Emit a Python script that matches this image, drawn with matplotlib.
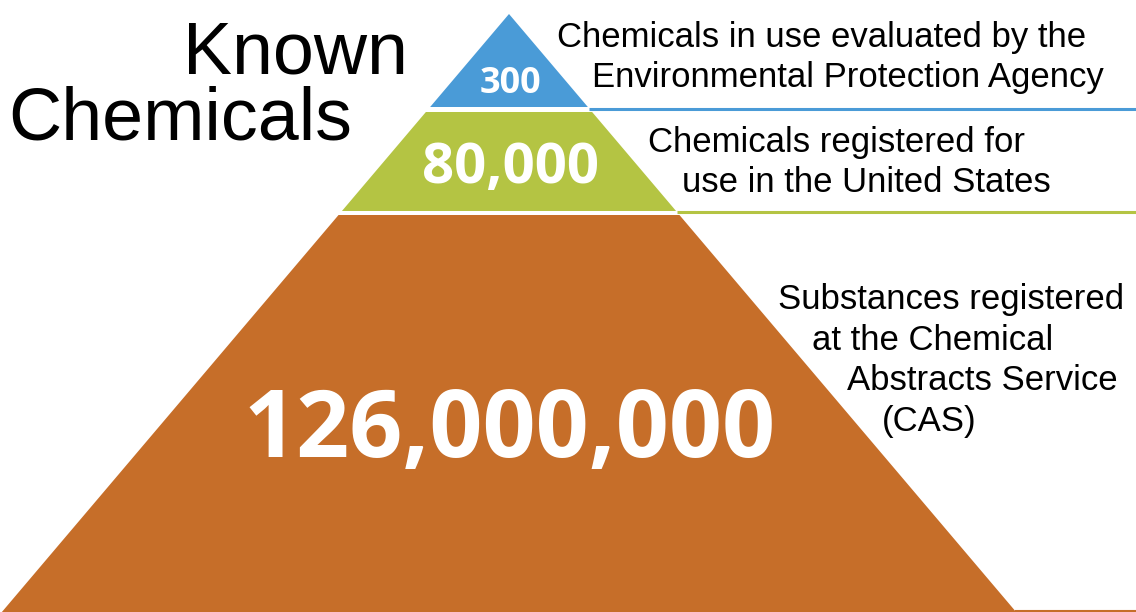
import matplotlib.pyplot as plt
from matplotlib.patches import Polygon

# tiers of the pyramid, top to bottom
tier_counts = ["300", "80,000", "126,000,000"]
tier_labels = [
    ["Chemicals in use evaluated by the", "Environmental Protection Agency"],
    ["Chemicals registered for", "use in the United States"],
    ["Substances registered", "at the Chemical", "Abstracts Service", "(CAS)"],
]
tier_colors = ["#4A9BD7", "#B4C443", "#C66E29"]
title_lines = ["Known", "Chemicals"]

W, H = 1136, 612
apex_x, apex_y = 509, 14
slope = 0.848  # half width gained per pixel down

# layout in pixel units (y grows downward)
tier_top = [apex_y, 112, 215]
tier_bottom = [107, 211, 612]
rule_y = [108.5, 212, 611]
rule_w = [2.2, 2.2, 1.5]
count_y = [93, 183, 457]
count_size = [26, 40.5, 67]
label_x = [557, 648, 778]
label_y = [47, 152, 309]
line_gap = 40.5
indent = 34.5

fig = plt.figure(figsize=(W / 100, H / 100), dpi=100)
ax = fig.add_axes([0, 0, 1, 1])
ax.set_xlim(0, W)
ax.set_ylim(H, 0)
ax.axis('off')

def half(y):
    return (y - apex_y) * slope

for i in range(len(tier_counts)):
    t, b = tier_top[i], tier_bottom[i]
    pts = [(apex_x - half(t), t), (apex_x + half(t), t),
           (apex_x + half(b), b), (apex_x - half(b), b)]
    ax.add_patch(Polygon(pts, closed=True, color=tier_colors[i], lw=0))
    # rule from the pyramid edge to the right side
    ax.plot([apex_x + half(rule_y[i]), W], [rule_y[i], rule_y[i]],
            color=tier_colors[i], lw=rule_w[i], solid_capstyle='butt')
    ax.text(apex_x + 1, count_y[i], tier_counts[i], color='white',
            fontfamily='Open Sans', fontweight='bold', fontsize=count_size[i],
            ha='center', va='baseline')
    for j, line in enumerate(tier_labels[i]):
        ax.text(label_x[i] + j * indent, label_y[i] + j * line_gap, line,
                fontfamily='Liberation Sans', fontsize=25, color='black',
                ha='left', va='baseline')

ax.text(183, 73, title_lines[0], fontfamily='Liberation Sans', fontsize=53,
        ha='left', va='baseline')
ax.text(8, 139, title_lines[1], fontfamily='Liberation Sans', fontsize=53,
        ha='left', va='baseline')

fig.savefig('out.png', dpi=100)
